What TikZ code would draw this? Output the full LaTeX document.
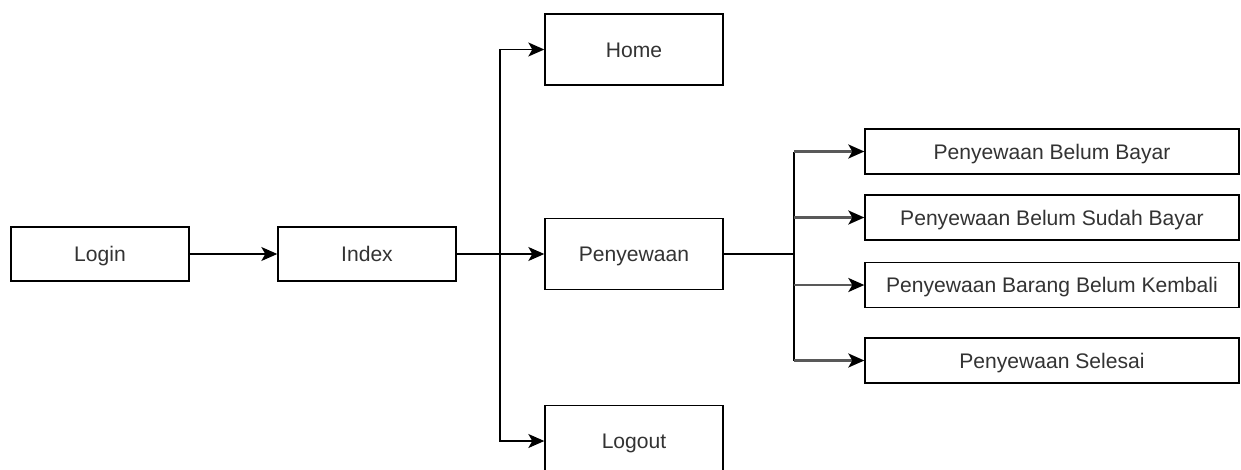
\documentclass[tikz,border=0pt]{standalone}
\usepackage{fontspec}
\setmainfont{Liberation Sans}
\usepackage{tikz}
\usetikzlibrary{arrows.meta,calc}

\tikzset{
  kotak/.style={draw=black, line width=0.8pt, fill=white, inner sep=0pt, text=black!80, text height=8.6pt, text depth=0pt, font=\fontsize{12}{14}\selectfont},
  menu/.style={kotak, minimum width=3.56cm, minimum height=1.42cm},
  sub/.style={kotak, minimum width=7.48cm, minimum height=0.9cm},
  panah/.style={line width=0.8pt, -{Stealth[length=0.32cm, width=0.28cm, inset=0.08cm]}},
  panahsub/.style={panah, draw=black!65, line width=1.3pt, -{Stealth[length=0.32cm, width=0.28cm, inset=0.08cm, black]}}
}

\begin{document}
\begin{tikzpicture}[x=0.02cm, y=-0.02cm]
  \useasboundingbox (0,0) rectangle (1241,470);

  \node[kotak, minimum width=3.56cm, minimum height=1.08cm] (login) at (100,254) {Login};
  \node[kotak, minimum width=3.56cm, minimum height=1.08cm] (index) at (367,254) {Index};
  \node[menu] (home) at (634,49.5) {Home};
  \node[menu] (sewa) at (634,254) {Penyewaan};
  \node[menu] (logout) at (634,441) {Logout};

  \node[sub] (belum) at (1052,151.5) {Penyewaan Belum Bayar};
  \node[sub] (sudah) at (1052,217.5) {Penyewaan Belum Sudah Bayar};
  \node[sub] (kembali) at (1052,285) {Penyewaan Barang Belum Kembali};
  \node[sub] (selesai) at (1052,360.5) {Penyewaan Selesai};

  \coordinate (cabang) at (500,254);
  \coordinate (cabangsewa) at (794,254);

  \draw[panah] (login) -- (index);
  \draw[panah] (index) -- (sewa);
  \draw[panah] (cabang) |- (home);
  \draw[panah] (cabang) |- (logout);

  \draw[line width=0.8pt] (sewa) -- (cabangsewa);
  \draw[line width=0.9pt] (cabangsewa |- belum) -- (cabangsewa |- selesai);
  \draw[panahsub] (cabangsewa |- belum) -- (belum);
  \draw[panahsub] (cabangsewa |- sudah) -- (sudah);
  \draw[panahsub] (cabangsewa |- kembali) -- (kembali);
  \draw[panahsub] (cabangsewa |- selesai) -- (selesai);
\end{tikzpicture}
\end{document}
